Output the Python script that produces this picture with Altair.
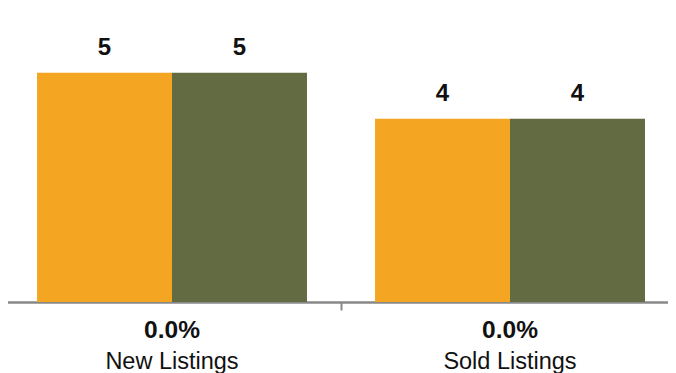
import altair as alt
import pandas as pd

categories = ["New Listings", "Sold Listings"]
series = ["Prior", "Current"]
values_prior = [5, 4]
values_current = [5, 4]
pct_labels = ["0.0%", "0.0%"]

rows = []
for i, c in enumerate(categories):
    rows.append({"cat": c, "series": series[0], "value": values_prior[i]})
    rows.append({"cat": c, "series": series[1], "value": values_current[i]})
df = pd.DataFrame(rows)
lab = pd.DataFrame({"cat": categories, "pct": pct_labels})

FONT = "Liberation Sans"
x_scale = alt.Scale(domain=categories, range=[-5, 671], paddingInner=0, paddingOuter=0)
y_scale = alt.Scale(domain=[0, 6], nice=False)

base = alt.Chart(df).encode(
    x=alt.X("cat:N", scale=x_scale, sort=categories,
            axis=alt.Axis(title=None, labels=False, domainColor="#888888", domainWidth=2.5,
                          tickColor="#888888", tickWidth=2, tickSize=8, tickBand="extent",
                          grid=False)),
    xOffset=alt.XOffset("series:N", sort=series,
                        scale=alt.Scale(paddingInner=0, paddingOuter=0.252)),
)

bars = base.mark_bar().encode(
    y=alt.Y("value:Q", scale=y_scale, axis=None),
    color=alt.Color("series:N", sort=series,
                    scale=alt.Scale(domain=series, range=["#F4A521", "#636B43"]), legend=None),
)

vals = base.mark_text(font=FONT, fontSize=24, fontWeight="bold", color="#111111",
                      baseline="alphabetic", dy=-18).encode(
    y=alt.Y("value:Q", scale=y_scale),
    text=alt.Text("value:Q"),
)

pct = alt.Chart(lab).mark_text(font=FONT, fontSize=24.5, fontWeight="bold", color="#111111",
                               baseline="alphabetic", dy=36).encode(
    x=alt.X("cat:N", scale=x_scale, sort=categories),
    y=alt.datum(0, scale=y_scale),
    text="pct:N",
)

names = alt.Chart(lab).mark_text(font=FONT, fontSize=23.5, color="#111111",
                                 baseline="alphabetic", dy=67).encode(
    x=alt.X("cat:N", scale=x_scale, sort=categories),
    y=alt.datum(0, scale=y_scale),
    text="cat:N",
)

chart = alt.layer(bars, vals, pct, names).properties(
    width=660, height=275,
    autosize=alt.AutoSizeParams(type="none"),
    padding={"left": 0, "top": 19, "right": 0, "bottom": 71},
).configure_view(stroke=None)

chart.save("out.html", embed_options={"renderer": "svg", "actions": False})
